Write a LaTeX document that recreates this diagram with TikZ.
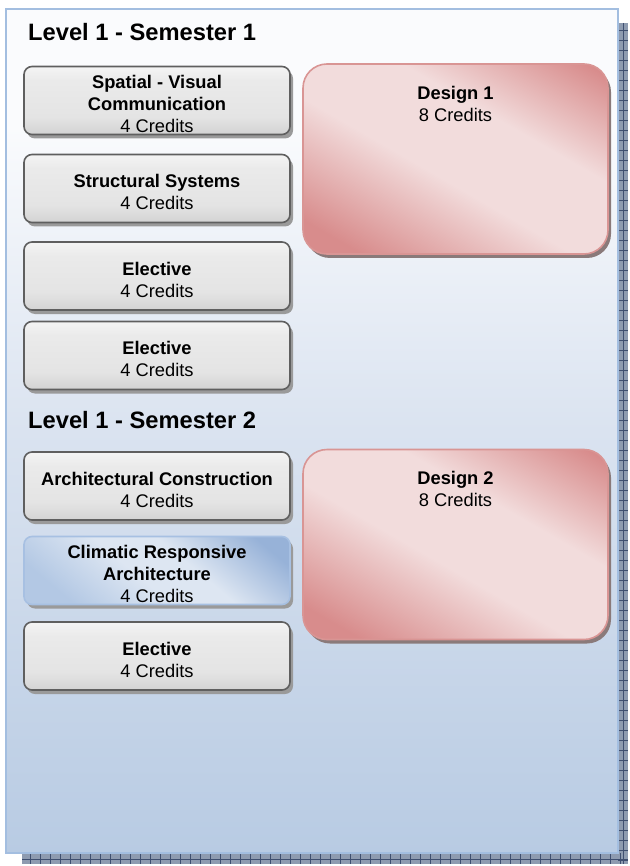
\documentclass[tikz,border=0pt]{standalone}
\usepackage{fontspec}
\setmainfont{Liberation Sans}
\usetikzlibrary{shadows}

% palette
\definecolor{panelTop}{HTML}{FAFBFD}
\definecolor{panelMid}{HTML}{DAE3F0}
\definecolor{panelBot}{HTML}{B8CBE3}
\definecolor{panelLine}{HTML}{A3BEE0}
\definecolor{slabBase}{HTML}{8E9BB0}
\definecolor{slabGrid}{HTML}{3F4F70}
\definecolor{grayTop}{HTML}{F4F4F4}
\definecolor{grayMid}{HTML}{E4E4E4}
\definecolor{grayBot}{HTML}{D3D3D3}
\definecolor{grayLine}{HTML}{5F5F5F}
\definecolor{grayShadow}{HTML}{9A9A9A}
\definecolor{roseDark}{HTML}{D88C8C}
\definecolor{roseLight}{HTML}{F2DCDC}
\definecolor{roseLine}{HTML}{D99594}
\definecolor{roseShadow}{HTML}{8A7A7A}
\definecolor{skyDark}{HTML}{97B2D8}
\definecolor{skyMid}{HTML}{B3C8E4}
\definecolor{skyLight}{HTML}{DDE6F2}
\definecolor{skyLine}{HTML}{A7C0E2}

% the path covers the middle 50bp of each 100bp shading
\pgfdeclareverticalshading{panelshade}{100bp}{color(0bp)=(panelBot); color(25bp)=(panelBot); color(50bp)=(panelMid); color(68bp)=(panelTop); color(100bp)=(panelTop)}
\pgfdeclareverticalshading{grayshade}{100bp}{color(0bp)=(grayBot); color(25bp)=(grayBot); color(38bp)=(grayMid); color(65bp)=(grayMid!60!grayTop); color(75bp)=(grayTop); color(100bp)=(grayTop)}
\pgfdeclareverticalshading{roseshade}{100bp}{color(0bp)=(roseDark); color(22bp)=(roseDark); color(45bp)=(roseLight); color(62bp)=(roseLight); color(82bp)=(roseDark); color(100bp)=(roseDark)}
\pgfdeclareverticalshading{skyshade}{100bp}{color(0bp)=(skyMid); color(25bp)=(skyMid); color(45bp)=(skyLight); color(58bp)=(skyLight); color(78bp)=(skyDark); color(100bp)=(skyDark)}

\newcommand{\boxfont}{\fontsize{18.3}{22}\selectfont}
\newcommand{\headfont}{\fontsize{23.7}{28}\selectfont\bfseries}
% bold first line with a strut that lowers the text block a little
\newcommand{\hd}[1]{\rule{0pt}{21pt}\textbf{#1}}

\tikzset{
  heading/.style={anchor=base west, inner sep=0pt, font=\headfont},
  course/.style={rounded corners=8pt, draw=grayLine, line width=1.6pt,
    shading=grayshade, minimum width=266pt, minimum height=68pt,
    align=center, inner sep=0pt, font=\boxfont,
    general shadow={fill=grayShadow, shadow xshift=3pt, shadow yshift=-4pt}},
  climate/.style={course, draw=skyLine, shading=skyshade, shading angle=-40},
  studio/.style={rounded corners=24pt, draw=roseLine, line width=1.6pt,
    shading=roseshade, shading angle=-30, inner sep=0pt, font=\boxfont,
    general shadow={fill=roseShadow, shadow xshift=3pt, shadow yshift=-4pt}},
}

\newcommand{\studiotext}[2]{%
  \begin{minipage}[c][190pt][t]{305pt}\centering\boxfont
    \vspace*{22pt}\textbf{#1}\\#2\end{minipage}}

\begin{document}
\begin{tikzpicture}[x=1pt,y=-1pt]
  \useasboundingbox (0,0) rectangle (629,866);

  % textured slab behind the panel
  \fill[slabBase] (22,23) rectangle (628,864);
  \begin{scope}[slabGrid, line width=0.8pt]
    \foreach \gx in {30,40,...,620} \draw (\gx,853) -- (\gx,864);
    \foreach \gy in {30,40,...,860} \draw (618,\gy) -- (628,\gy);
    \draw (22,859) -- (628,859);
    \draw (623,23) -- (623,864);
  \end{scope}

  % panel
  \shade[shading=panelshade, draw=panelLine, line width=2pt] (6,9) rectangle (618,853);

  % semester 1
  \node[heading] (head1) at (28,41) {Level 1 - Semester 1};
  \node[course] (svc)  at (157,100.5) {\hd{Spatial - Visual}\\\textbf{Communication}\\4 Credits};
  \node[course] (sts)  at (157,188.5) {\hd{Structural Systems}\\4 Credits};
  \node[course] (el1)  at (157,276)   {\hd{Elective}\\4 Credits};
  \node[course] (el2)  at (157,355.5) {\hd{Elective}\\4 Credits};
  \node[studio] (des1) at (455.5,159) {\studiotext{Design 1}{8 Credits}};

  % semester 2
  \node[heading] (head2) at (28,428) {Level 1 - Semester 2};
  \node[course]  (arc)  at (157,486)   {\hd{Architectural Construction}\\4 Credits};
  \node[climate] (cra)  at (157,570.5) {\hd{Climatic Responsive}\\\textbf{Architecture}\\4 Credits};
  \node[course]  (el3)  at (157,656)   {\hd{Elective}\\4 Credits};
  \node[studio]  (des2) at (455.5,544.5) {\studiotext{Design 2}{8 Credits}};
\end{tikzpicture}
\end{document}
